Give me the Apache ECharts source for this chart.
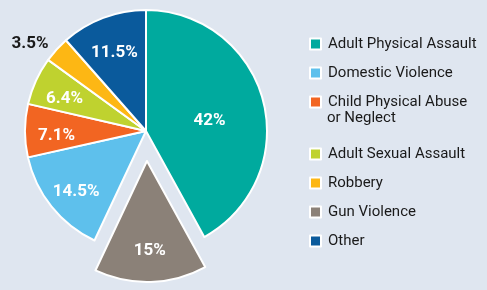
<!DOCTYPE html>
<html>
<head>
<meta charset="utf-8">
<script src="https://cdn.jsdelivr.net/npm/echarts@6/dist/echarts.min.js"></script>
<style>
html,body{margin:0;padding:0;background:#dfe6f0;}
#c{width:487px;height:290px;}
</style>
</head>
<body>
<div id="c"></div>
<script>
// Pie order (clockwise from 12 o'clock)
const categories = ["Adult Physical Assault", "Gun Violence", "Domestic Violence", "Child Physical Abuse or Neglect", "Adult Sexual Assault", "Robbery", "Other"];
const values = [42, 15, 14.5, 7.1, 6.4, 3.5, 11.5];
const valueLabels = ["42%", "15%", "14.5%", "7.1%", "6.4%", "3.5%", "11.5%"];
const colors = ["#00aa9e", "#8b8178", "#5ec0ec", "#f26522", "#bfd22f", "#fdb714", "#0a5a9c"];
// Legend order
const legendTop = ["Adult Physical Assault", "Domestic Violence", "Child Physical Abuse or Neglect"];
const legendBottom = ["Adult Sexual Assault", "Robbery", "Gun Violence", "Other"];

const FONT = "Roboto, 'Liberation Sans', sans-serif";
const CENTER = [146, 131];
const R = 121;
const EXPLODE = "Gun Violence";
const OUTSIDE = "Robbery";
const INNER_LABEL = "Adult Physical Assault";

const lbl = { fontSize: 17, fontWeight: 'bold', fontFamily: FONT };
const mainData = categories.map((n, i) => ({
  name: n, value: values[i], selected: n === EXPLODE,
  itemStyle: { color: colors[i] },
  label: n === INNER_LABEL ? Object.assign({ show: true, position: 'inside', formatter: valueLabels[i], color: '#fff', offset: [2, 6] }, lbl) : { show: false }
}));
const labelData = categories.map((n, i) => ({
  name: n, value: values[i], selected: n === EXPLODE,
  label: n === INNER_LABEL ? { show: false } :
    (n === OUTSIDE ? Object.assign({ show: true, position: 'outside', formatter: valueLabels[i], color: '#1a1a1a', overflow: 'none', offset: [3, 0] }, lbl)
                   : Object.assign({ show: true, position: 'inside', formatter: valueLabels[i], color: '#fff', offset: [0, 5] }, lbl))
}));

const chart = echarts.init(document.getElementById('c'), null, { renderer: 'canvas' });
const legendCommon = {
  orient: 'vertical', left: 309, padding: 0, itemWidth: 11, itemHeight: 11, itemGap: 13,
  icon: 'rect', selectedMode: false,
  textStyle: { fontFamily: FONT, fontSize: 15, color: '#1a1a1a', lineHeight: 16, padding: [0, 0, 0, 2] }
};
chart.setOption({
  backgroundColor: '#dfe6f0',
  animation: false,
  legend: [
    Object.assign({}, legendCommon, { top: 36, data: legendTop,
      formatter: n => n === "Child Physical Abuse or Neglect" ? "Child Physical Abuse" : n }),
    Object.assign({}, legendCommon, { top: 146, data: legendBottom })
  ],
  graphic: [{
    type: 'text', left: 327, top: 111,
    style: { text: 'or Neglect', fontFamily: FONT, fontSize: 15, fill: '#1a1a1a' }
  }],
  series: [
    {
      type: 'pie', center: CENTER, radius: [0, R], startAngle: 90, clockwise: true,
      selectedMode: 'single', selectedOffset: 30,
      select: { itemStyle: { borderColor: '#fff', borderWidth: 2 } },
      itemStyle: { borderColor: '#fff', borderWidth: 2 },
      labelLine: { show: false },
      emphasis: { disabled: true },
      data: mainData
    },
    {
      type: 'pie', center: CENTER, radius: [52, R], startAngle: 90, clockwise: true,
      selectedMode: 'single', selectedOffset: 30, silent: true,
      itemStyle: { color: 'rgba(0,0,0,0)', borderWidth: 0 },
      select: { itemStyle: { color: 'rgba(0,0,0,0)', borderWidth: 0 } },
      labelLine: { show: false, length: 8, length2: 0 },
      emphasis: { disabled: true },
      data: labelData
    }
  ]
});
</script>
</body>
</html>
